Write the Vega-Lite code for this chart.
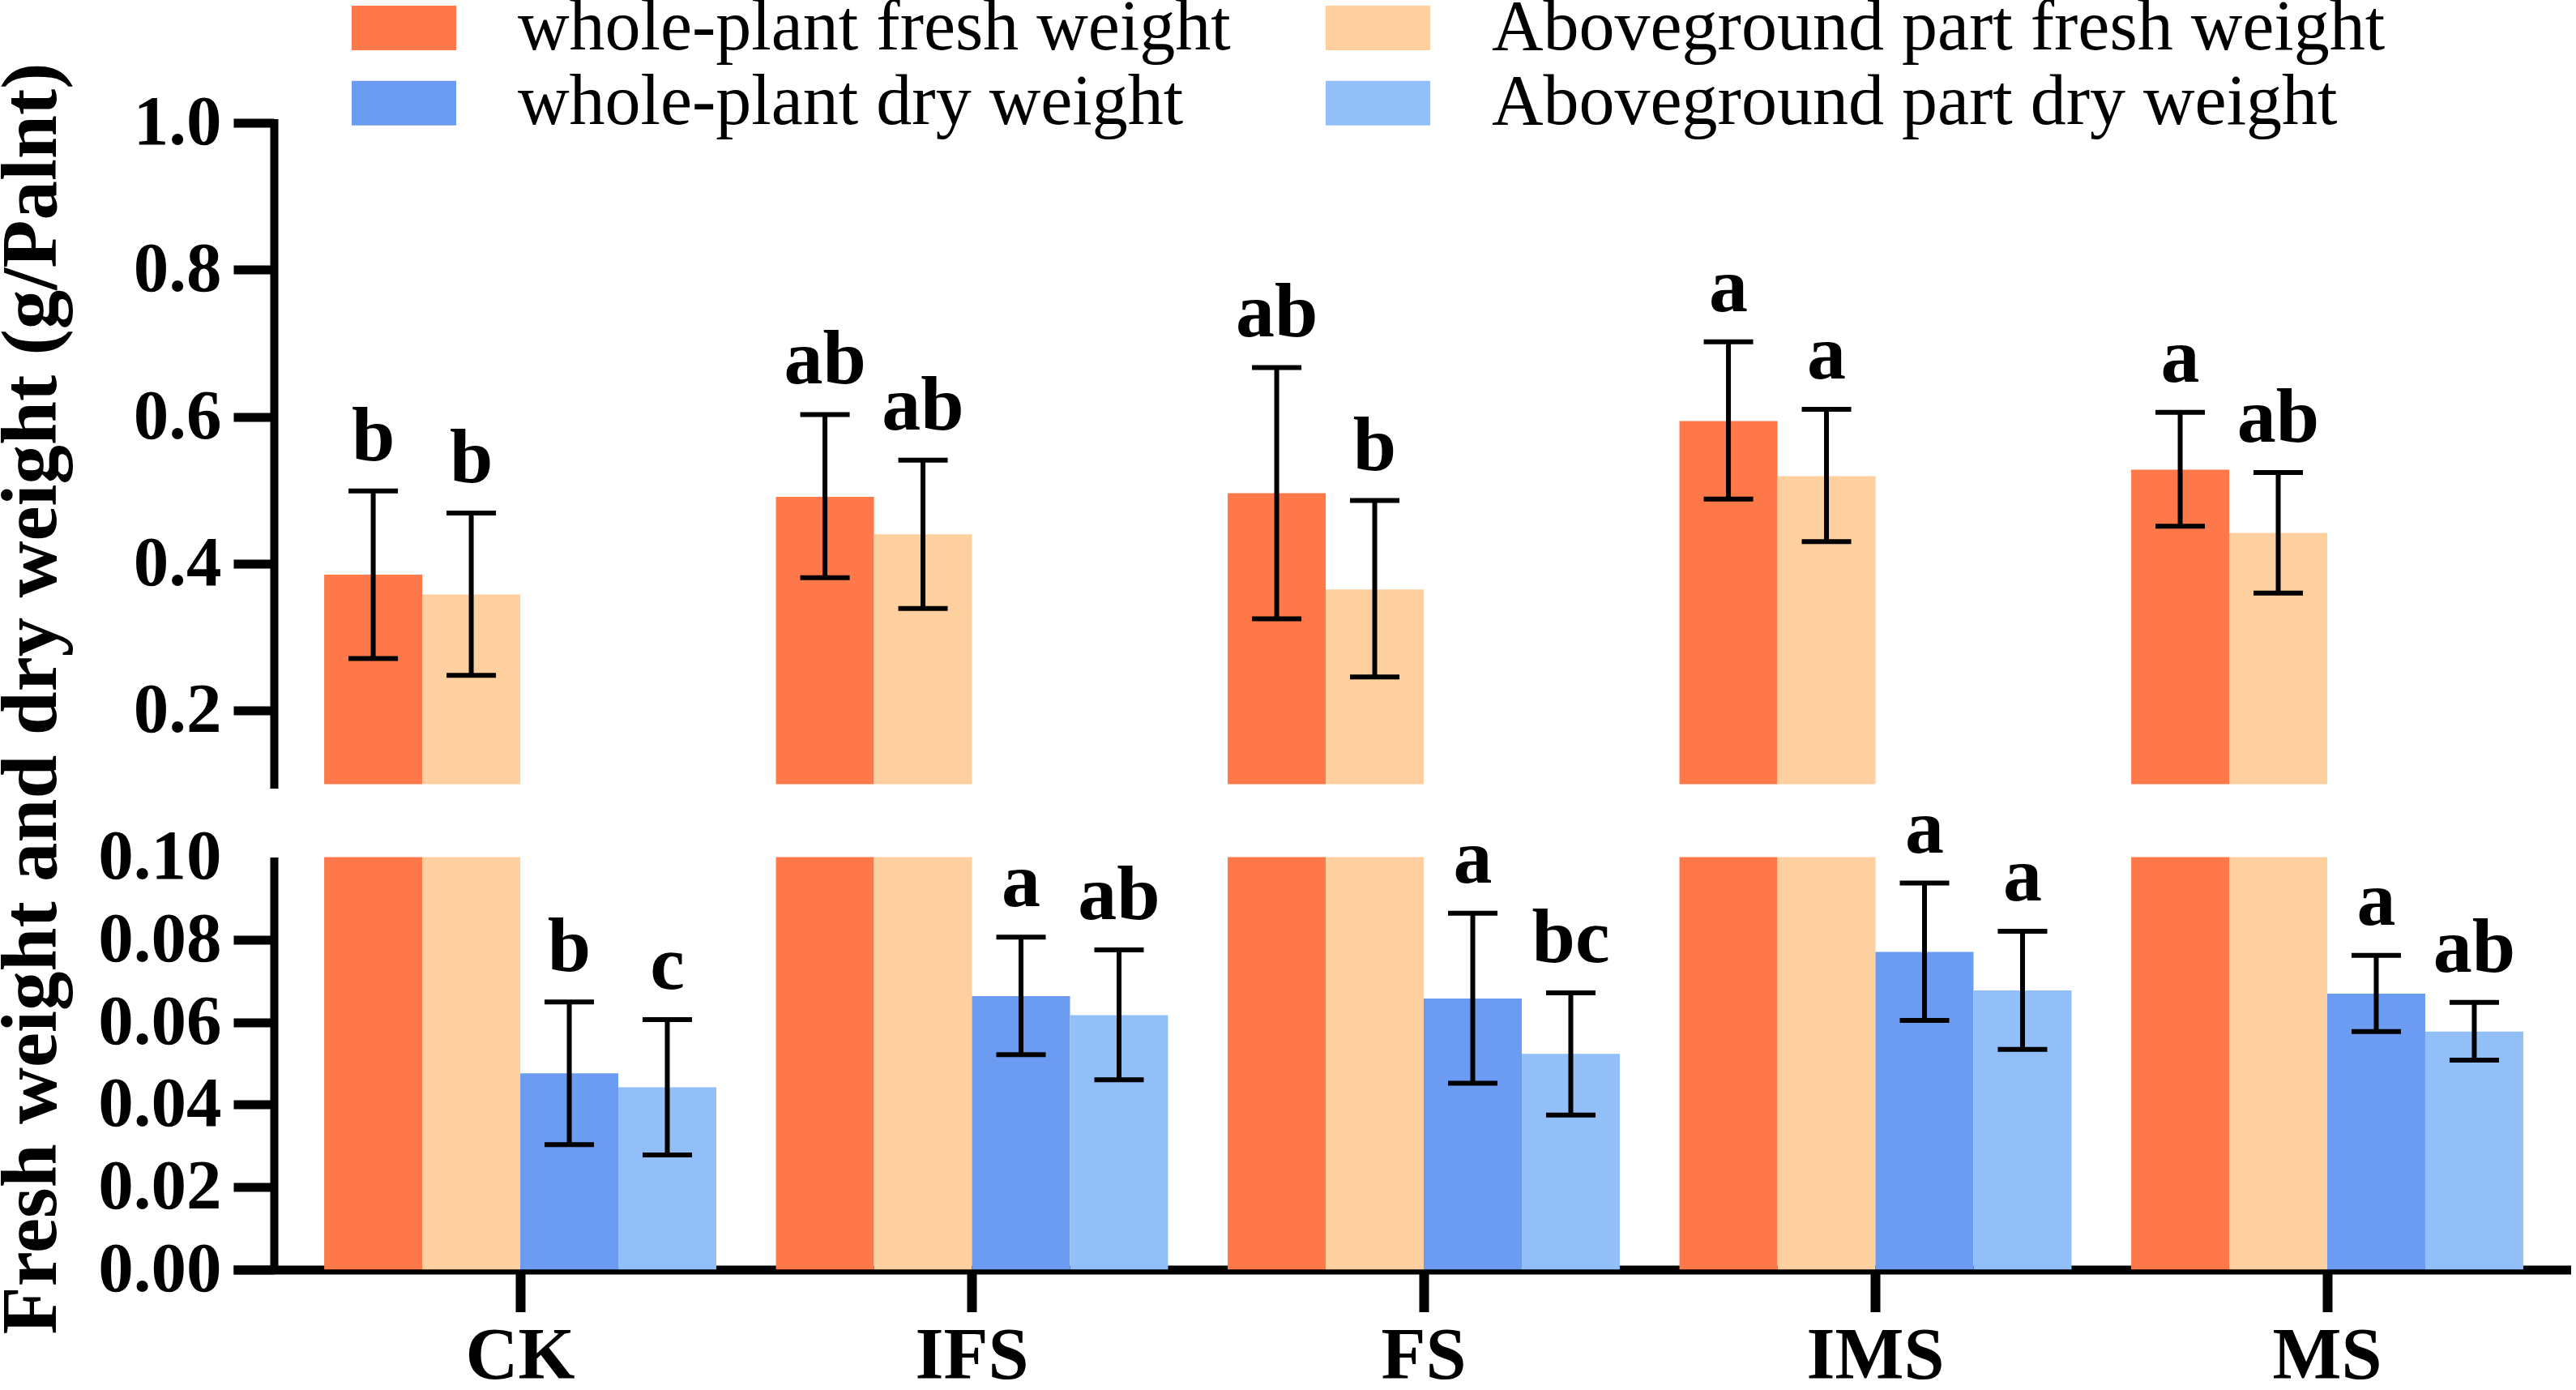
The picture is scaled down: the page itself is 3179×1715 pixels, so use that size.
{
  "$schema": "https://vega.github.io/schema/vega-lite/v6.json",
  "padding": {"left": -11, "top": -12.5, "right": 0, "bottom": 0},
  "background": "white",
  "bounds": "flush",
  "datasets": {
    "bars": [
      {"treatment": "CK", "series": "whole-plant fresh weight", "kind": "fresh", "mean": 0.385, "lo": 0.271, "hi": 0.499, "label": "b"},
      {"treatment": "CK", "series": "Aboveground part fresh weight", "kind": "fresh", "mean": 0.358, "lo": 0.248, "hi": 0.469, "label": "b"},
      {"treatment": "CK", "series": "whole-plant dry weight", "kind": "dry", "mean": 0.0476, "lo": 0.0303, "hi": 0.0649, "label": "b"},
      {"treatment": "CK", "series": "Aboveground part dry weight", "kind": "dry", "mean": 0.0442, "lo": 0.0278, "hi": 0.0606, "label": "c"},
      {"treatment": "IFS", "series": "whole-plant fresh weight", "kind": "fresh", "mean": 0.491, "lo": 0.381, "hi": 0.603, "label": "ab"},
      {"treatment": "IFS", "series": "Aboveground part fresh weight", "kind": "fresh", "mean": 0.44, "lo": 0.339, "hi": 0.541, "label": "ab"},
      {"treatment": "IFS", "series": "whole-plant dry weight", "kind": "dry", "mean": 0.0663, "lo": 0.0521, "hi": 0.0806, "label": "a"},
      {"treatment": "IFS", "series": "Aboveground part dry weight", "kind": "dry", "mean": 0.0617, "lo": 0.046, "hi": 0.0775, "label": "ab"},
      {"treatment": "FS", "series": "whole-plant fresh weight", "kind": "fresh", "mean": 0.496, "lo": 0.325, "hi": 0.667, "label": "ab"},
      {"treatment": "FS", "series": "Aboveground part fresh weight", "kind": "fresh", "mean": 0.365, "lo": 0.246, "hi": 0.486, "label": "b"},
      {"treatment": "FS", "series": "whole-plant dry weight", "kind": "dry", "mean": 0.0657, "lo": 0.0452, "hi": 0.0864, "label": "a"},
      {"treatment": "FS", "series": "Aboveground part dry weight", "kind": "dry", "mean": 0.0523, "lo": 0.0375, "hi": 0.0671, "label": "bc"},
      {"treatment": "IMS", "series": "whole-plant fresh weight", "kind": "fresh", "mean": 0.594, "lo": 0.488, "hi": 0.702, "label": "a"},
      {"treatment": "IMS", "series": "Aboveground part fresh weight", "kind": "fresh", "mean": 0.519, "lo": 0.43, "hi": 0.61, "label": "a"},
      {"treatment": "IMS", "series": "whole-plant dry weight", "kind": "dry", "mean": 0.077, "lo": 0.0604, "hi": 0.0937, "label": "a"},
      {"treatment": "IMS", "series": "Aboveground part dry weight", "kind": "dry", "mean": 0.0677, "lo": 0.0534, "hi": 0.082, "label": "a"},
      {"treatment": "MS", "series": "whole-plant fresh weight", "kind": "fresh", "mean": 0.528, "lo": 0.451, "hi": 0.606, "label": "a"},
      {"treatment": "MS", "series": "Aboveground part fresh weight", "kind": "fresh", "mean": 0.442, "lo": 0.36, "hi": 0.524, "label": "ab"},
      {"treatment": "MS", "series": "whole-plant dry weight", "kind": "dry", "mean": 0.0669, "lo": 0.0577, "hi": 0.0762, "label": "a"},
      {"treatment": "MS", "series": "Aboveground part dry weight", "kind": "dry", "mean": 0.0577, "lo": 0.0508, "hi": 0.0648, "label": "ab"}
    ]
  },
  "config": {
    "view": {"stroke": null},
    "font": "Liberation Serif",
    "axis": {
      "labelFont": "Liberation Serif", "labelFontWeight": "bold", "labelColor": "black",
      "titleFont": "Liberation Serif", "titleFontWeight": "bold", "titleColor": "black",
      "domainColor": "black", "tickColor": "black", "grid": false
    },
    "legend": {
      "orient": "none", "legendX": 146, "legendY": -163.5,
      "columns": 2, "columnPadding": 117, "rowPadding": 0, "clipHeight": 92.5,
      "labelFont": "Liberation Serif", "labelFontSize": 88, "labelFontWeight": "normal", "labelColor": "black",
      "labelOffset": 76, "labelLimit": 3000,
      "symbolType": "M-1,-0.426L1,-0.426L1,0.426L-1,0.426Z", "symbolSize": 16641,
      "symbolStrokeWidth": 0, "symbolOpacity": 1, "title": null
    }
  },
  "resolve": {"scale": {"y": "independent"}},
  "spacing": 90,
  "vconcat": [
    {
      "width": 2885, "height": 816,
      "data": {"name": "bars"},
      "encoding": {
        "x": {"field": "treatment", "type": "nominal", "sort": ["CK", "IFS", "FS", "IMS", "MS"],
              "scale": {"paddingInner": 0.132, "paddingOuter": 0.1535, "align": 0.655}, "axis": null},
        "xOffset": {"field": "series", "type": "nominal",
              "scale": {"domain": ["whole-plant fresh weight", "Aboveground part fresh weight", "whole-plant dry weight", "Aboveground part dry weight"], "paddingInner": 0, "paddingOuter": 0}}
      },
      "layer": [
        {
          "mark": {"type": "bar", "clip": true},
          "encoding": {
            "y": {"field": "mean", "type": "quantitative",
                  "scale": {"domain": [0.1, 1.0], "zero": false, "nice": false},
                  "axis": {"values": [0.2, 0.4, 0.6, 0.8, 1.0], "format": ".1f", "title": null, "offset": -50,
                           "tickSize": 50, "tickWidth": 11, "domainWidth": 10, "domainCap": "square",
                           "labelFontSize": 87, "labelPadding": 15}},
            "color": {"field": "series", "type": "nominal",
                      "scale": {"domain": ["whole-plant fresh weight", "whole-plant dry weight", "Aboveground part fresh weight", "Aboveground part dry weight"],
                                "range": ["#FF7849", "#6C9BF2", "#FED09F", "#93BFF9"]}}
          }
        },
        {
          "transform": [{"filter": "datum.kind === 'fresh'"}],
          "mark": {"type": "rule", "color": "black", "strokeWidth": 6},
          "encoding": {"y": {"field": "lo", "type": "quantitative"}, "y2": {"field": "hi"}}
        },
        {
          "transform": [{"filter": "datum.kind === 'fresh'"}],
          "mark": {"type": "tick", "orient": "horizontal", "color": "black", "size": 61, "thickness": 6, "opacity": 1},
          "encoding": {"y": {"field": "hi", "type": "quantitative"}}
        },
        {
          "transform": [{"filter": "datum.kind === 'fresh'"}],
          "mark": {"type": "tick", "orient": "horizontal", "color": "black", "size": 61, "thickness": 6, "opacity": 1},
          "encoding": {"y": {"field": "lo", "type": "quantitative"}}
        },
        {
          "transform": [{"filter": "datum.kind === 'fresh'"}],
          "mark": {"type": "text", "font": "Liberation Serif", "fontWeight": "bold", "fontSize": 96, "color": "black",
                   "align": "center", "baseline": "alphabetic", "dy": -38},
          "encoding": {"y": {"field": "hi", "type": "quantitative"}, "text": {"field": "label"}}
        }
      ]
    },
    {
      "width": 2885, "height": 509,
      "data": {"name": "bars"},
      "encoding": {
        "x": {"field": "treatment", "type": "nominal", "sort": ["CK", "IFS", "FS", "IMS", "MS"],
              "scale": {"paddingInner": 0.132, "paddingOuter": 0.1535, "align": 0.655},
              "axis": {"title": null, "labelAngle": 0, "labelFontSize": 90, "labelPadding": 11,
                       "tickSize": 52, "tickWidth": 12, "domainWidth": 11}},
        "xOffset": {"field": "series", "type": "nominal",
              "scale": {"domain": ["whole-plant fresh weight", "Aboveground part fresh weight", "whole-plant dry weight", "Aboveground part dry weight"], "paddingInner": 0, "paddingOuter": 0}}
      },
      "layer": [
        {
          "mark": {"type": "bar", "clip": true},
          "encoding": {
            "y": {"field": "mean", "type": "quantitative",
                  "scale": {"domain": [0, 0.1], "nice": false},
                  "axis": {"values": [0, 0.02, 0.04, 0.06, 0.08, 0.1], "format": ".2f", "offset": -50,
                           "tickSize": 50, "tickWidth": 11, "domainWidth": 10,
                           "tickOpacity": {"condition": {"test": "datum.value > 0.099", "value": 0}, "value": 1},
                           "labelFontSize": 87, "labelPadding": 15,
                           "title": "Fresh weight and dry weight (g/Palnt)", "titleFontSize": 97,
                           "titleX": -270, "titleY": -196, "titleAngle": 270, "titleAlign": "center", "titleBaseline": "alphabetic"}},
            "color": {"field": "series", "type": "nominal",
                      "scale": {"domain": ["whole-plant fresh weight", "whole-plant dry weight", "Aboveground part fresh weight", "Aboveground part dry weight"],
                                "range": ["#FF7849", "#6C9BF2", "#FED09F", "#93BFF9"]}}
          }
        },
        {
          "transform": [{"filter": "datum.kind === 'dry'"}],
          "mark": {"type": "rule", "color": "black", "strokeWidth": 6},
          "encoding": {"y": {"field": "lo", "type": "quantitative"}, "y2": {"field": "hi"}}
        },
        {
          "transform": [{"filter": "datum.kind === 'dry'"}],
          "mark": {"type": "tick", "orient": "horizontal", "color": "black", "size": 61, "thickness": 6, "opacity": 1},
          "encoding": {"y": {"field": "hi", "type": "quantitative"}}
        },
        {
          "transform": [{"filter": "datum.kind === 'dry'"}],
          "mark": {"type": "tick", "orient": "horizontal", "color": "black", "size": 61, "thickness": 6, "opacity": 1},
          "encoding": {"y": {"field": "lo", "type": "quantitative"}}
        },
        {
          "transform": [{"filter": "datum.kind === 'dry'"}],
          "mark": {"type": "text", "font": "Liberation Serif", "fontWeight": "bold", "fontSize": 96, "color": "black",
                   "align": "center", "baseline": "alphabetic", "dy": -38},
          "encoding": {"y": {"field": "hi", "type": "quantitative"}, "text": {"field": "label"}}
        }
      ]
    }
  ]
}
